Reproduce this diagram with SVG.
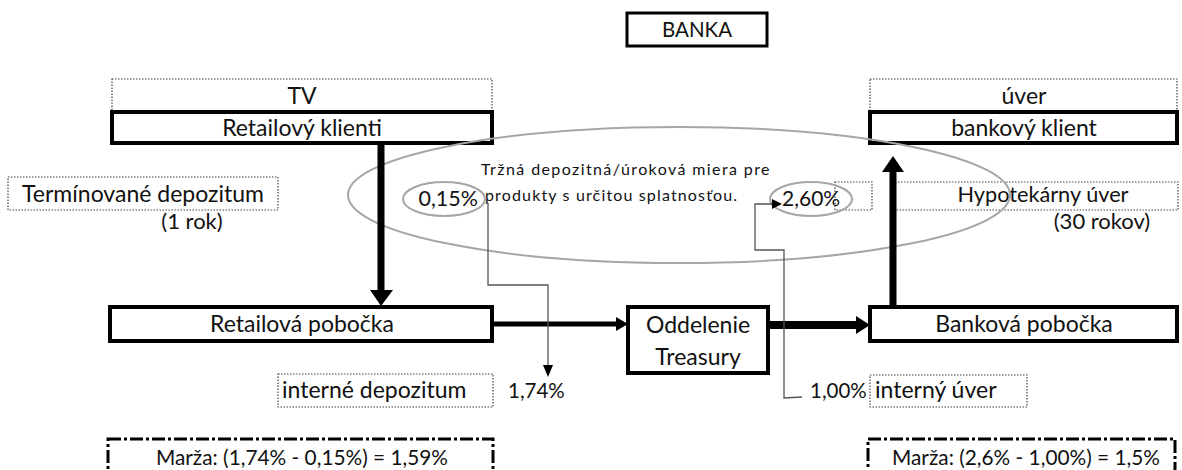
<svg xmlns="http://www.w3.org/2000/svg" width="1182" height="470" viewBox="0 0 1182 470">
<style>
text{font-family:Lato,"Open Sans","Liberation Sans",sans-serif;fill:#111;font-size:23px}
.c{text-anchor:middle}
.n{font-size:20.5px}
.m{font-size:20.8px}
.p{font-size:22px}
.sm{font-size:16px;letter-spacing:1.4px}
.box{fill:#fff;stroke:#000;stroke-width:4}
.dot{fill:none;stroke:#444;stroke-width:1.2;stroke-dasharray:1.5 1.5}
.marza{fill:#fff;stroke:#000;stroke-width:3;stroke-dasharray:13 3 3 3}
.ell{fill:none;stroke:#a6a6a6;stroke-width:2}
.thin{fill:none;stroke:#555;stroke-width:1.3}
</style>
<rect width="1182" height="470" fill="#fff"/>
<g id="banka"><rect x="627" y="13" width="140" height="33" class="box" style="stroke-width:3"/><text x="697" y="37" class="c" style="font-size:20.5px">BANKA</text></g>
<g id="tv"><rect x="112" y="79" width="380" height="33" class="dot"/><text x="302" y="104" class="c">TV</text></g>
<g id="retail-klienti"><rect x="112" y="112" width="380" height="31" class="box"/><text x="302" y="136" class="c">Retailový klienti</text></g>
<g id="uver"><rect x="870" y="79" width="307" height="33" class="dot"/><text x="1024" y="104" class="c">úver</text></g>
<g id="bank-klient"><rect x="870" y="112" width="307" height="31" class="box"/><text x="1024" y="136" class="c">bankový klient</text></g>
<g id="terminovane"><rect x="8" y="177" width="270" height="33" class="dot"/><text x="143" y="202" class="c">Termínované depozitum</text><text x="192" y="229" class="c p">(1 rok)</text></g>
<g id="hypo"><rect x="835" y="182" width="37" height="28" class="dot"/><rect x="895" y="182" width="283" height="28" class="dot"/><text x="1043" y="202" class="c" style="font-size:21.7px">Hypotekárny úver</text><text x="1102" y="229" class="c p">(30 rokov)</text></g>
<g id="trh"><ellipse cx="679" cy="195" rx="331" ry="68" class="ell"/><text x="626" y="175" class="c sm">Tržná depozitná/úroková miera pre</text><text x="485" y="201" class="sm" style="letter-spacing:1.15px">produkty s určitou splatnosťou.</text></g>
<g id="r015"><ellipse cx="444" cy="199" rx="41" ry="17" class="ell"/><text x="478" y="206" text-anchor="end" style="font-size:21.5px">0,15%</text></g>
<g id="r260"><ellipse cx="811" cy="199" rx="41" ry="17" class="ell"/><text x="782" y="206" style="font-size:21px">2,60%</text></g>
<g id="retail-pob"><rect x="110" y="307" width="382" height="34" class="box"/><text x="302" y="332" class="c">Retailová pobočka</text></g>
<g id="treasury"><rect x="628" y="307" width="140" height="66" class="box"/><text x="698" y="333" class="c">Oddelenie</text><text x="698" y="365" class="c">Treasury</text></g>
<g id="bank-pob"><rect x="870" y="307" width="307" height="34" class="box"/><text x="1024" y="332" class="c">Banková pobočka</text></g>
<g id="int-dep"><rect x="278" y="374" width="215" height="33" class="dot"/><text x="282" y="398">interné depozitum</text><text x="508" y="398" class="n">1,74%</text></g>
<g id="int-uver"><rect x="870" y="375" width="157" height="32" class="dot"/><text x="875" y="398">interný úver</text><text x="810" y="398" class="n">1,00%</text></g>
<g id="marza-l"><rect x="108" y="439" width="385" height="45" class="marza"/><text x="302" y="465" class="c m">Marža: (1,74% - 0,15%) = 1,59%</text></g>
<g id="marza-r"><rect x="868" y="439" width="307" height="45" class="marza"/><text x="1026" y="465" class="c m">Marža: (2,6% - 1,00%) = 1,5%</text></g>
<g id="connectors">
<line x1="381" y1="143" x2="381" y2="291" stroke="#000" stroke-width="7"/><polygon points="370,290 393,290 381,306" fill="#000"/>
<line x1="893" y1="307" x2="893" y2="170" stroke="#000" stroke-width="7"/><polygon points="882,172 904,172 893,156" fill="#000"/>
<line x1="492" y1="324" x2="618" y2="324" stroke="#000" stroke-width="5"/><polygon points="616,317 616,331 628,324" fill="#000"/>
<line x1="768" y1="325" x2="858" y2="325" stroke="#000" stroke-width="8"/><polygon points="856,316 856,334 870,325" fill="#000"/>
<path d="M488,203 V285 H548 V366" class="thin"/><polygon points="543,365 553,365 548,377" fill="#000"/>
<path d="M802,397 L784,398 V250 H755 V204 H773" class="thin"/><polygon points="772,199 772,209 782,204" fill="#000"/>
</g>
</svg>
